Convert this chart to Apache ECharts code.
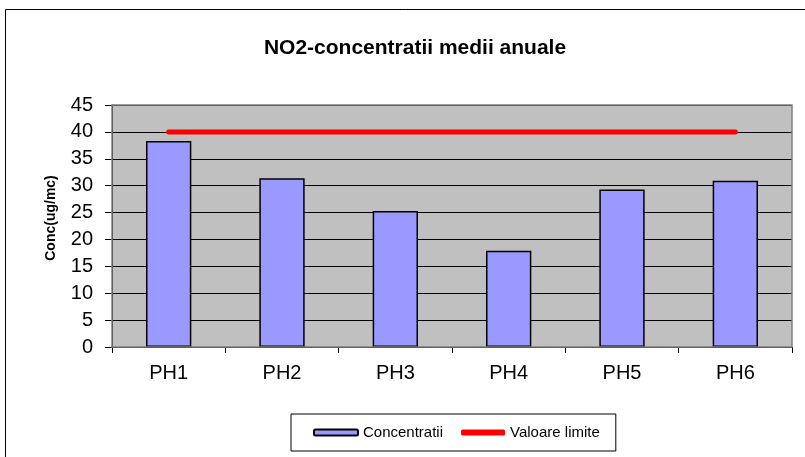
<!DOCTYPE html>
<html>
<head>
<meta charset="utf-8">
<script src="https://cdn.jsdelivr.net/npm/echarts@6/dist/echarts.min.js"></script>
<style>
    html, body { margin: 0; padding: 0; background: #fff; }
    #chart { width: 805px; height: 457px; }
</style>
</head>
<body>
<div id="chart"></div>
<script>
// data
const categories = ['PH1', 'PH2', 'PH3', 'PH4', 'PH5', 'PH6'];
const concentratii = [38.3, 31.4, 25.3, 17.9, 29.3, 30.9];
const valoareLimite = [40, 40, 40, 40, 40, 40];
const yTicks = { min: 0, max: 45, interval: 5 };

let chart = echarts.init(document.getElementById('chart'));
let option = {
    backgroundColor: '#fff',
    animation: false,
    textStyle: { fontFamily: 'Liberation Sans, Arial, sans-serif' },
    graphic: [
        {
            type: 'rect',
            shape: { x: 5.5, y: 9.5, width: 820, height: 470 },
            style: { fill: null, stroke: '#000', lineWidth: 1 }
        },
        {
            // plot area frame (gray)
            type: 'rect',
            shape: { x: 112, y: 105, width: 680, height: 242 },
            style: { fill: null, stroke: '#808080', lineWidth: 1.5 },
            z: 10
        }
    ],
    title: {
        text: 'NO2-concentratii medii anuale',
        left: 410,
        top: 33,
        textAlign: 'center',
        textStyle: { fontSize: 21, fontWeight: 'bold', color: '#000' }
    },
    grid: {
        left: 112,
        right: 13,
        top: 105,
        bottom: 110,
        show: true,
        backgroundColor: '#C0C0C0',
        borderWidth: 0
    },
    legend: {
        left: 291,
        top: 414,
        padding: [11, 16, 11, 22],
        itemGap: 18,
        borderColor: '#000',
        borderWidth: 1,
        backgroundColor: '#fff',
        textStyle: { fontSize: 15, color: '#000' },
        itemWidth: 44,
        itemHeight: 6,
        data: [
            { name: 'Concentratii', itemStyle: { color: '#9999FF', borderColor: '#000', borderWidth: 2 } },
            { name: 'Valoare limite', icon: 'roundRect', itemStyle: { color: '#FF0000' } }
        ]
    },
    xAxis: {
        type: 'category',
        data: categories,
        boundaryGap: true,
        axisLine: { lineStyle: { color: '#000', width: 1 } },
        axisTick: { show: true, length: 6, inside: false, lineStyle: { color: '#000' } },
        axisLabel: { fontSize: 20, color: '#000', margin: 16 },
        splitLine: { show: false }
    },
    yAxis: {
        type: 'value',
        min: yTicks.min,
        max: yTicks.max,
        interval: yTicks.interval,
        name: 'Conc(ug/mc)',
        nameLocation: 'middle',
        nameGap: 54,
        nameTextStyle: { fontSize: 14, fontWeight: 'bold', color: '#000', padding: [0, 0, 0, 16] },
        axisLine: { show: true, lineStyle: { color: '#000', width: 1 } },
        axisTick: { show: true, length: 7, lineStyle: { color: '#000' } },
        axisLabel: { fontSize: 20, color: '#000', margin: 19 },
        splitLine: { show: true, lineStyle: { color: '#000', width: 1 } }
    },
    series: [
        {
            name: 'Concentratii',
            type: 'bar',
            data: concentratii,
            barWidth: '40%',
            itemStyle: { color: '#9999FF', borderColor: '#000', borderWidth: 1.5 },
            z: 2
        },
        {
            name: 'Valoare limite',
            type: 'line',
            data: valoareLimite,
            symbol: 'none',
            lineStyle: { color: '#FF0000', width: 5, cap: 'round' },
            itemStyle: { color: '#FF0000' },
            z: 3
        }
    ]
};
chart.setOption(option);
window.onresize = () => {
    chart.resize()
}
</script>
</body>
</html>
